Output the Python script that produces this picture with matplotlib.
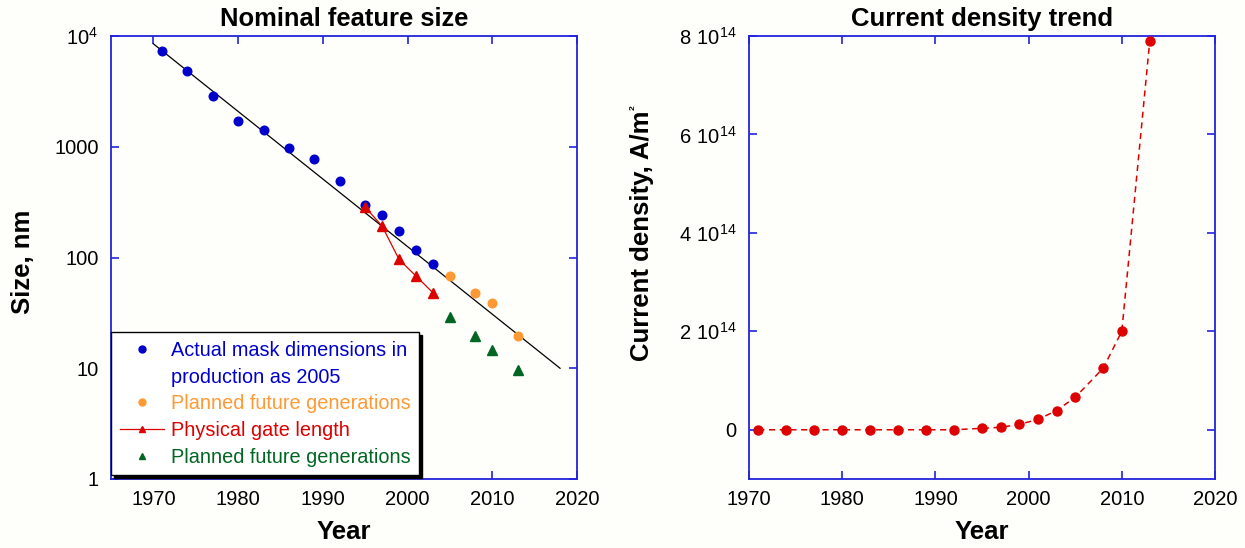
import matplotlib
matplotlib.use("Agg")
import matplotlib.pyplot as plt
from matplotlib.lines import Line2D
from matplotlib.ticker import FixedLocator, FixedFormatter

plt.rcParams['font.family'] = ['Liberation Sans', 'DejaVu Sans']
plt.rcParams['mathtext.fontset'] = 'custom'
plt.rcParams['mathtext.rm'] = 'Liberation Sans'
plt.rcParams['mathtext.default'] = 'regular'

# ---------------- data ----------------
actual_years = [1971, 1974, 1977, 1980, 1983, 1986, 1989, 1992, 1995, 1997, 1999, 2001, 2003]
actual_sizes = [7300, 4800, 2900, 1700, 1420, 980, 770, 490, 295, 240, 175, 117, 87]

planned_years = [2005, 2008, 2010, 2013]
planned_sizes = [68, 48, 39, 19.5]

gate_years = [1995, 1997, 1999, 2001, 2003]
gate_sizes = [285, 192, 96, 68, 48]

gate_planned_years = [2005, 2008, 2010, 2013]
gate_planned_sizes = [29, 19.5, 14.5, 9.7]

trend_years = [1970, 2018]
trend_sizes = [8500, 10]

density_years = [1971, 1974, 1977, 1980, 1983, 1986, 1989, 1992, 1995, 1997,
                 1999, 2001, 2003, 2005, 2008, 2010, 2013]
density_values = [0.0, 0.0, 0.0, 0.0, 0.0, 0.0, 0.0, 0.0, 0.03e14, 0.05e14,
                  0.11e14, 0.21e14, 0.39e14, 0.66e14, 1.25e14, 2.0e14, 7.9e14]

left_xticks = [1970, 1980, 1990, 2000, 2010, 2020]
left_yticks = [1, 10, 100, 1000, 10000]
left_yticklabels = ['1', '10', '100', '1000', r'$10^{4}$']
right_xticks = [1970, 1980, 1990, 2000, 2010, 2020]
right_yticks = [0, 2e14, 4e14, 6e14, 8e14]
right_yticklabels = ['0', r'$2\ 10^{14}$', r'$4\ 10^{14}$', r'$6\ 10^{14}$', r'$8\ 10^{14}$']

legend_labels = ['Actual mask dimensions in', 'production as 2005',
                 'Planned future generations', 'Physical gate length',
                 'Planned future generations']

# ---------------- style ----------------
BLUE = '#0000cc'
ORANGE = '#ff9933'
RED = '#dd0000'
GREEN = '#006622'
SPINE = '#2323dd'
BG = '#fefefb'

fig = plt.figure(figsize=(12.45, 5.48), dpi=100, facecolor=BG)
ax1 = fig.add_axes([111/1245, 1-479/548, 466/1245, 443/548], facecolor=BG)
ax2 = fig.add_axes([749/1245, 1-479/548, 466/1245, 443/548], facecolor=BG)

def style(ax):
    for s in ax.spines.values():
        s.set_color(SPINE)
        s.set_linewidth(1.3)
    ax.tick_params(which='both', direction='in', top=True, right=True,
                   color=SPINE, width=1.2, length=6, labelsize=14.5,
                   labelcolor='black')
    ax.tick_params(axis='x', pad=8)
    ax.tick_params(axis='y', pad=9)
    ax.tick_params(which='minor', length=0)

# ---------------- left plot ----------------
ax1.set_yscale('log')
ax1.plot(trend_years, trend_sizes, color='black', lw=0.9, zorder=2)
ax1.plot(actual_years, actual_sizes, 'o', color=BLUE, ms=6.2, zorder=3)
ax1.plot(planned_years, planned_sizes, 'o', color=ORANGE, ms=6.2, zorder=3)
ax1.plot(gate_years, gate_sizes, '-^', color=RED, ms=6.5, lw=0.9, zorder=4)
ax1.plot(gate_planned_years, gate_planned_sizes, '^', color=GREEN, ms=6.5, lw=0, zorder=3)
ax1.set_xlim(1965, 2020)
ax1.set_ylim(1, 10000)
style(ax1)
ax1.xaxis.set_major_locator(FixedLocator(left_xticks))
ax1.yaxis.set_major_locator(FixedLocator(left_yticks))
ax1.yaxis.set_major_formatter(FixedFormatter(left_yticklabels))
ax1.yaxis.set_minor_locator(FixedLocator([]))
ax1.set_title('Nominal feature size', fontsize=18.4, fontweight='bold', pad=7)
ax1.set_xlabel('Year', fontsize=18.5, fontweight='bold')
ax1.set_ylabel('Size, nm', fontsize=18.5, fontweight='bold')
ax1.xaxis.set_label_coords(0.5, -0.092)
ax1.yaxis.set_label_coords(-0.163, 0.49)

handles = [
    Line2D([], [], ls='none', marker='o', color=BLUE, ms=5),
    Line2D([], [], ls='none', marker='none'),
    Line2D([], [], ls='none', marker='o', color=ORANGE, ms=5),
    Line2D([], [], ls='-', marker='^', color=RED, ms=5, lw=0.9),
    Line2D([], [], ls='none', marker='^', color=GREEN, ms=5),
]
leg = ax1.legend(handles, legend_labels, loc='lower left', bbox_to_anchor=(0.0, 0.008),
                 borderaxespad=0, fontsize=14.3, frameon=True, fancybox=False,
                 shadow={'color': 'black', 'alpha': 1.0}, edgecolor='black',
                 facecolor='white', framealpha=1, handlelength=2.2,
                 handletextpad=0.35, borderpad=0.45, labelspacing=0.38)
leg.get_frame().set_linewidth(1.0)
for t, c in zip(leg.get_texts(), [BLUE, BLUE, ORANGE, RED, GREEN]):
    t.set_color(c)

# ---------------- right plot ----------------
ax2.plot(density_years, density_values, '--o', color=RED, ms=6.5, lw=1.1,
         dashes=(4, 3), zorder=3)
ax2.set_xlim(1970, 2020)
ax2.set_ylim(-1e14, 8e14)
style(ax2)
ax2.xaxis.set_major_locator(FixedLocator(right_xticks))
ax2.yaxis.set_major_locator(FixedLocator(right_yticks))
ax2.yaxis.set_major_formatter(FixedFormatter(right_yticklabels))
ax2.set_title('Current density trend', fontsize=18.5, fontweight='bold', pad=7)
ax2.set_xlabel('Year', fontsize=18.5, fontweight='bold')
ax2.set_ylabel('Current density, A/m', fontsize=18.5, fontweight='bold')
ax2.xaxis.set_label_coords(0.5, -0.092)
ax2.yaxis.set_label_coords(-0.204, 0.55)
# tiny superscript "2" of A/m^2, placed at the upper-left end of the rotated label
ax2.annotate('2', xy=(0, 1), xycoords=ax2.yaxis.label, xytext=(0, 0),
             textcoords='offset points', rotation=90, fontsize=6,
             fontweight='bold', ha='left', va='bottom')

fig.savefig('out.png', dpi=100, facecolor=BG)
